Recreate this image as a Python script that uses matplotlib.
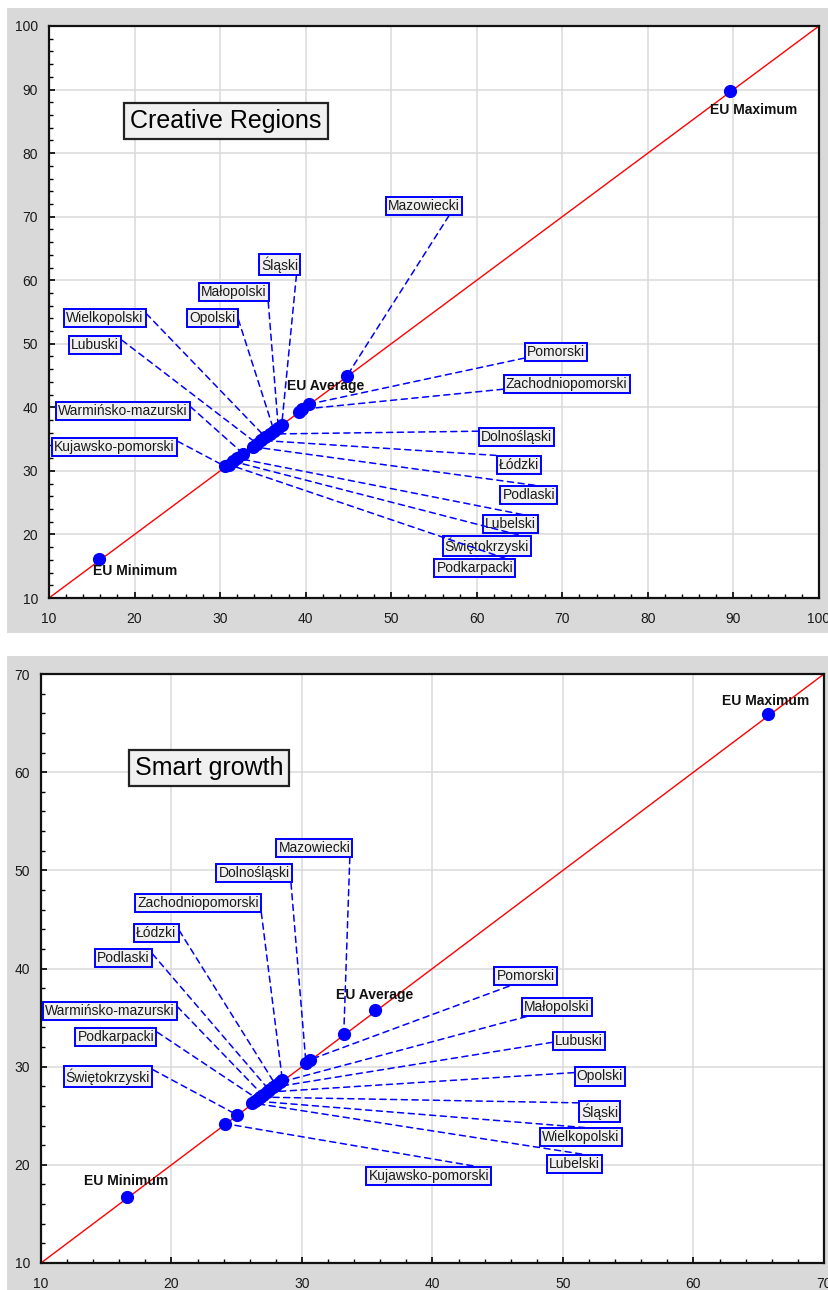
import matplotlib
matplotlib.use('Agg')
import matplotlib.pyplot as plt
from matplotlib.patches import Rectangle
from matplotlib.ticker import MultipleLocator

plt.rcParams['font.family'] = ['Liberation Sans', 'DejaVu Sans']

# ---- Creative Regions (top panel) ----
creative_names = ['Mazowiecki', 'Śląski', 'Małopolski', 'Opolski', 'Wielkopolski',
                  'Lubuski', 'Warmińsko-mazurski', 'Kujawsko-pomorski', 'Pomorski',
                  'Zachodniopomorski', 'Dolnośląski', 'Łódzki', 'Podlaski', 'Lubelski',
                  'Świętokrzyski', 'Podkarpacki']
creative_x = [44.8, 37.2, 36.8, 36.3, 35.3, 34.3, 32.7, 30.6, 40.4,
              39.6, 35.8, 34.8, 33.8, 32.0, 31.5, 31.0]
creative_y = [44.9, 37.2, 36.8, 36.3, 35.3, 34.3, 32.7, 30.7, 40.5,
              39.7, 35.8, 34.8, 33.8, 32.0, 31.5, 31.0]
creative_eu_names = ['EU Minimum', 'EU Average', 'EU Maximum']
creative_eu_x = [15.9, 39.2, 89.6]
creative_eu_y = [16.1, 39.2, 89.8]

# ---- Smart growth (bottom panel) ----
smart_names = ['Mazowiecki', 'Dolnośląski', 'Zachodniopomorski', 'Łódzki', 'Podlaski',
               'Warmińsko-mazurski', 'Podkarpacki', 'Świętokrzyski', 'Kujawsko-pomorski',
               'Pomorski', 'Małopolski', 'Lubuski', 'Opolski', 'Śląski', 'Wielkopolski',
               'Lubelski']
smart_x = [33.2, 30.3, 28.5, 28.0, 27.5, 27.0, 26.6, 25.0, 24.1,
           30.6, 28.3, 27.8, 27.3, 26.8, 26.4, 26.2]
smart_y = [33.3, 30.4, 28.6, 28.1, 27.6, 27.1, 26.7, 25.1, 24.2,
           30.7, 28.4, 27.9, 27.4, 26.9, 26.5, 26.3]
smart_eu_names = ['EU Minimum', 'EU Average', 'EU Maximum']
smart_eu_x = [16.6, 35.6, 65.7]
smart_eu_y = [16.7, 35.8, 65.9]

# label placement (layout only)
creative_label_pos = [(49.6, 71.7), (34.8, 62.5), (27.8, 58.1), (26.4, 54.1), (12.0, 54.1),
                      (12.6, 49.8), (11.05, 39.4), (10.6, 33.8), (65.9, 48.7), (63.4, 43.7),
                      (60.5, 35.3), (62.6, 30.9), (63.0, 26.2), (61.0, 21.6), (56.25, 18.2),
                      (55.3, 14.7)]
creative_eu_label_pos = [(15.1, 14.2), (37.8, 43.4), (87.3, 86.8)]
smart_label_pos = [(28.2, 52.3), (23.6, 49.7), (17.4, 46.7), (17.3, 43.6), (14.3, 41.1),
                   (10.3, 35.7), (12.8, 33.0), (11.9, 29.0), (35.1, 18.9), (44.9, 39.2),
                   (47.0, 36.1), (49.4, 32.6), (51.05, 29.0), (51.4, 25.4), (48.4, 22.8),
                   (48.9, 20.1)]
smart_eu_label_pos = [(13.3, 18.4), (32.6, 37.3), (62.2, 67.3)]

W, H = 829, 1290
fig = plt.figure(figsize=(W / 100, H / 100), dpi=100)

# gray frames behind each panel
for y0, y1 in [(8, 633), (656, 1290)]:
    fig.add_artist(Rectangle((7 / W, 1 - y1 / H), 1 - 7 / W, (y1 - y0) / H,
                             transform=fig.transFigure, fc='#d9d9d9', ec='none', zorder=0))


def make_panel(rect, lim, title, title_pos, names, xs, ys, label_pos,
               eu_names, eu_x, eu_y, eu_pos):
    ax = fig.add_axes(rect)
    ax.set_facecolor('white')
    ax.set_xlim(*lim)
    ax.set_ylim(*lim)
    ax.xaxis.set_major_locator(MultipleLocator(10))
    ax.yaxis.set_major_locator(MultipleLocator(10))
    ax.xaxis.set_minor_locator(MultipleLocator(2))
    ax.yaxis.set_minor_locator(MultipleLocator(2))
    ax.grid(True, which='major', color='#dadada', lw=1.1)
    ax.set_axisbelow(True)
    ax.tick_params(which='major', direction='in', length=4, width=1.2,
                   labelsize=10, labelcolor='#1a1a1a', pad=8)
    ax.tick_params(axis='x', which='major', pad=10)
    ax.tick_params(which='minor', direction='in', length=3, width=1)
    for s in ax.spines.values():
        s.set_linewidth(1.6)
        s.set_color('#111111')

    ax.plot(lim, lim, color='red', lw=1, zorder=2)

    renderer = fig.canvas.get_renderer()
    for name, x, y, (lx, ly) in zip(names, xs, ys, label_pos):
        # measure the label box to pick which corner the leader starts from
        t = ax.text(lx, ly, name, fontsize=10, ha='left', va='center',
                    bbox=dict(boxstyle='square,pad=0.15'))
        bb = t.get_bbox_patch().get_window_extent(renderer)
        t.remove()
        px, py = ax.transData.transform((x, y))
        rx = 0 if px < bb.x0 else (1 if px > bb.x1 else (px - bb.x0) / bb.width)
        ry = 0 if py < bb.y0 else (1 if py > bb.y1 else 0.5)
        ax.annotate(name, xy=(x, y), xytext=(lx, ly), textcoords='data',
                    fontsize=10, ha='left', va='center', color='#1a1a1a', zorder=5,
                    bbox=dict(boxstyle='square,pad=0.15', fc='#f0f0f0', ec='#0000ff', lw=1.4),
                    arrowprops=dict(arrowstyle='-', color='#0000ff', lw=1.1,
                                    ls=(0, (4, 3)), relpos=(rx, ry),
                                    shrinkA=0, shrinkB=0))

    ax.scatter(xs, ys, s=72, color='#0000ff', zorder=4)
    ax.scatter(eu_x, eu_y, s=72, color='#0000ff', zorder=4)
    for name, (lx, ly) in zip(eu_names, eu_pos):
        ax.text(lx, ly, name, fontsize=10, fontweight='bold', color='#111111',
                ha='left', va='center', zorder=5)

    ax.text(title_pos[0], title_pos[1], title, fontsize=18, ha='left', va='center',
            color='black', zorder=6,
            bbox=dict(boxstyle='square,pad=0.24', fc='#f0f0f0', ec='#222222', lw=1.6))
    return ax


make_panel([49 / W, 1 - 598 / H, 770 / W, 572 / H], (10, 100), 'Creative Regions',
           (19.5, 85.0), creative_names, creative_x, creative_y, creative_label_pos,
           creative_eu_names, creative_eu_x, creative_eu_y, creative_eu_label_pos)

make_panel([41 / W, 1 - 1263 / H, 783 / W, 589 / H], (10, 70), 'Smart growth',
           (17.2, 60.4), smart_names, smart_x, smart_y, smart_label_pos,
           smart_eu_names, smart_eu_x, smart_eu_y, smart_eu_label_pos)

fig.savefig('out.png', dpi=100, facecolor='white')
